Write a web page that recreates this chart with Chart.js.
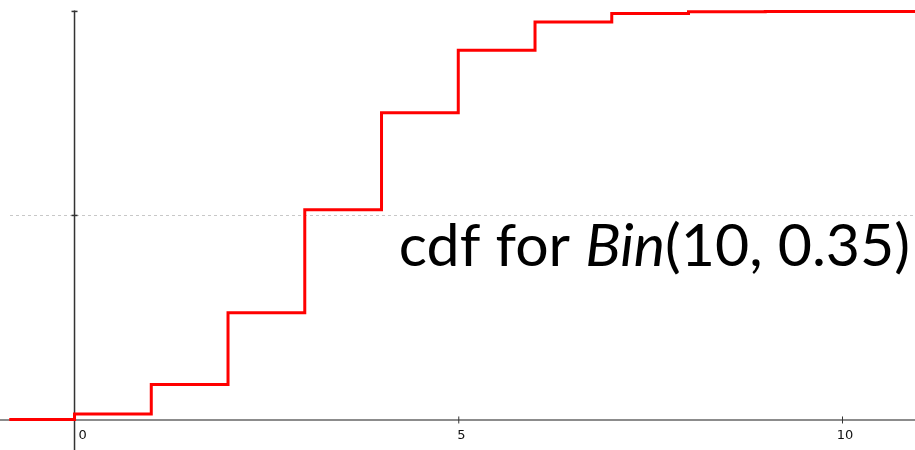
<!DOCTYPE html>
<html>
<head>
<meta charset="utf-8">
<script src="https://cdn.jsdelivr.net/npm/chart.js@4"></script>
<style>
  body { margin: 0; background: #fff; }
  #box { width: 915px; height: 450px; position: relative; }
</style>
</head>
<body>
<div id="box"><canvas id="grafica"></canvas></div>
<script>
// datos de la cdf de Bin(10, 0.35)
const valoresK = [0, 1, 2, 3, 4, 5, 6, 7, 8, 9, 10];
const cdf = [0.0135, 0.0860, 0.2616, 0.5138, 0.7515, 0.9051, 0.9740, 0.9952, 0.9995, 1.0000, 1.0000];
const inicioX = -0.85;
const finX = 10.96;
const ticksX = [0, 5, 10];
const etiquetasX = ["0", "5", "10"];
const ticksY = [0.5, 1];
const titulo = ["cdf for ", "Bin", "(10, 0.35)"];

const puntos = [{ x: inicioX, y: 0 }];
valoresK.forEach((k, i) => puntos.push({ x: k, y: cdf[i] }));
puntos.push({ x: finX, y: cdf[cdf.length - 1] });

// ejes, rejilla y titulo dibujados a mano
const ejes = {
  id: "ejes",
  beforeDatasetsDraw(chart) {
    const ctx = chart.ctx;
    const sx = chart.scales.x, sy = chart.scales.y;
    const x0 = sx.getPixelForValue(0), y0 = sy.getPixelForValue(0);
    ctx.save();
    // linea punteada en 0.5
    ctx.strokeStyle = "#c8c8c8";
    ctx.lineWidth = 1;
    ctx.setLineDash([3, 3]);
    const ym = Math.round(sy.getPixelForValue(0.5)) + 0.5;
    ctx.beginPath();
    ctx.moveTo(10, ym);
    ctx.lineTo(chart.width, ym);
    ctx.stroke();
    ctx.setLineDash([]);
    // eje x
    ctx.strokeStyle = "#666";
    ctx.lineWidth = 1.5;
    ctx.beginPath();
    ctx.moveTo(0, y0 + 0.5);
    ctx.lineTo(chart.width, y0 + 0.5);
    ctx.stroke();
    // eje y
    ctx.strokeStyle = "#333";
    ctx.lineWidth = 1.5;
    ctx.beginPath();
    ctx.moveTo(x0, sy.getPixelForValue(1) - 1);
    ctx.lineTo(x0, chart.height);
    ctx.stroke();
    ticksY.forEach(v => {
      const py = sy.getPixelForValue(v);
      ctx.beginPath();
      ctx.moveTo(x0 - 3, py);
      ctx.lineTo(x0 + 3, py);
      ctx.stroke();
    });
    ctx.strokeStyle = "#333";
    ctx.lineWidth = 1;
    ctx.font = "13px 'DejaVu Sans'";
    ctx.fillStyle = "#111";
    ctx.textBaseline = "middle";
    ticksX.forEach((v, i) => {
      const px = sx.getPixelForValue(v);
      if (v !== 0) {
        ctx.beginPath();
        ctx.moveTo(px + 0.5, y0 - 3);
        ctx.lineTo(px + 0.5, y0 + 4);
        ctx.stroke();
        ctx.textAlign = "center";
        ctx.fillText(etiquetasX[i], px + 3, y0 + 16);
      } else {
        ctx.textAlign = "left";
        ctx.fillText(etiquetasX[i], px + 4, y0 + 16);
      }
    });
    ctx.restore();
  },
  afterDatasetsDraw(chart) {
    const ctx = chart.ctx;
    ctx.save();
    ctx.fillStyle = "#000";
    ctx.textBaseline = "alphabetic";
    const fuentes = ["59px Lato", "italic 59px Lato", "59px Lato"];
    let ancho = 0;
    titulo.forEach((t, i) => { ctx.font = fuentes[i]; ancho += ctx.measureText(t).width; });
    let x = 910 - ancho;
    titulo.forEach((t, i) => {
      ctx.font = fuentes[i];
      ctx.fillText(t, x, 266);
      x += ctx.measureText(t).width;
    });
    ctx.restore();
  }
};

new Chart(document.getElementById("grafica"), {
  type: "line",
  data: {
    datasets: [{
      data: puntos,
      borderColor: "#ff0000",
      borderWidth: 3,
      stepped: "before",
      pointRadius: 0,
      fill: false
    }]
  },
  options: {
    responsive: true,
    maintainAspectRatio: false,
    animation: false,
    layout: { padding: 0 },
    plugins: { legend: { display: false }, tooltip: { enabled: false } },
    scales: {
      x: { type: "linear", min: -0.971, max: 10.951, display: false },
      y: { type: "linear", min: -0.0748, max: 1.028, display: false }
    }
  },
  plugins: [ejes]
});
</script>
</body>
</html>
